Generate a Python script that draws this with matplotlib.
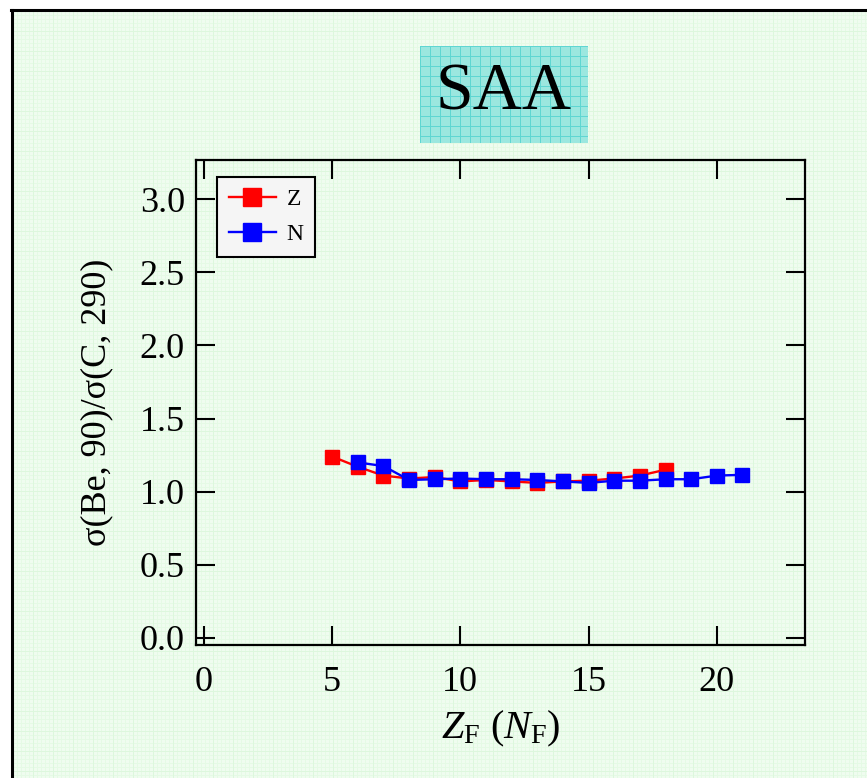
import numpy as np
import matplotlib
matplotlib.use("Agg")
import matplotlib.pyplot as plt
from matplotlib.lines import Line2D

plt.rcParams['font.family'] = ['Liberation Serif', 'DejaVu Serif']
plt.rcParams['mathtext.fontset'] = 'custom'
plt.rcParams['mathtext.rm'] = 'Liberation Serif'
plt.rcParams['mathtext.it'] = 'Liberation Serif:italic'

# ratio sigma(Be, 90) / sigma(C, 290) vs fragment Z and N
z_vals = [5, 6, 7, 8, 9, 10, 11, 12, 13, 14, 15, 16, 17, 18]
z_ratio = [1.24, 1.17, 1.11, 1.09, 1.10, 1.07, 1.08, 1.07, 1.06, 1.07, 1.075, 1.09, 1.11, 1.15]
n_vals = [6, 7, 8, 9, 10, 11, 12, 13, 14, 15, 16, 17, 18, 19, 20, 21]
n_ratio = [1.20, 1.175, 1.08, 1.085, 1.09, 1.085, 1.085, 1.08, 1.07, 1.06, 1.075, 1.075,
           1.085, 1.085, 1.11, 1.115]

x_ticks = [0, 5, 10, 15, 20]
y_ticks = [0.0, 0.5, 1.0, 1.5, 2.0, 2.5, 3.0]

W, H = 867, 778
fig = plt.figure(figsize=(W / 100, H / 100), dpi=100)
fig.patch.set_facecolor('white')


def paper(h, w, base, fine, bold, step_f, step_b):
    img = np.empty((h, w, 3))
    img[:] = base
    img[::step_f, :] = fine
    img[:, ::step_f] = fine
    img[::step_b, :] = bold
    img[:, ::step_b] = bold
    return img / 255.0


# graph-paper background inside the frame
fx0, fy0 = 13, 11
bg = fig.add_axes([fx0 / W, 0, 1 - fx0 / W, 1 - fy0 / H])
bg.imshow(paper(H - fy0, W - fx0, (239, 252, 239), (229, 250, 229), (221, 247, 221), 4, 20),
          aspect='auto', interpolation='nearest')
bg.set_axis_off()
fig.add_artist(Line2D([12 / W, 12 / W], [0, 1 - 10 / H], color='black', lw=2.2))
fig.add_artist(Line2D([11 / W, 1], [1 - 10 / H, 1 - 10 / H], color='black', lw=2.2))

# title tile
tx0, tx1, ty0, ty1 = 420, 588, 46, 143
tb = fig.add_axes([tx0 / W, 1 - ty1 / H, (tx1 - tx0) / W, (ty1 - ty0) / H])
tb.imshow(paper(ty1 - ty0, tx1 - tx0, (155, 231, 223), (130, 224, 218), (95, 214, 210), 10, 10),
          aspect='auto', interpolation='nearest')
tb.set_axis_off()
tb.text(0.5, 0.52, 'SAA', transform=tb.transAxes, ha='center', va='center', fontsize=49)

# main plot
ax = fig.add_axes([196 / W, 1 - 645 / H, (805 - 196) / W, (645 - 160) / H])
ax.set_facecolor('none')
ax.plot(z_vals, z_ratio, color='#ff0000', lw=1.7, marker='s', ms=9.5,
        mec='#ff0000', mfc='#ff0000', label='Z')
ax.plot(n_vals, n_ratio, color='#0000ff', lw=1.7, marker='s', ms=9.5,
        mec='#0000ff', mfc='#0000ff', label='N')

ax.set_xlim(-0.31, 23.44)
ax.set_ylim(-0.048, 3.267)
ax.set_xticks(x_ticks)
ax.set_yticks(y_ticks)
ax.set_yticklabels([f"{v:.1f}" for v in y_ticks])
ax.tick_params(axis='both', direction='in', length=14, width=1.5, labelsize=26,
               top=True, right=True)
ax.tick_params(axis='x', pad=15)
ax.tick_params(axis='y', pad=8)
for s in ax.spines.values():
    s.set_linewidth(1.6)

ax.set_ylabel(r'σ(Be, 90)/σ(C, 290)', fontsize=26, labelpad=19)
ax.set_xlabel(r'$Z_\mathrm{F}$ ($N_\mathrm{F}$)', fontsize=29, labelpad=7)

leg = ax.legend(loc='upper left', bbox_to_anchor=(0.0345, 0.965), borderaxespad=0,
                fontsize=17, handlelength=2.0, markerscale=1.4, fancybox=False,
                framealpha=1, edgecolor='black', facecolor='#f5f5f5',
                borderpad=0.5, labelspacing=0.55, handletextpad=0.45)
leg.get_frame().set_linewidth(1.5)

fig.savefig('out.png', dpi=100)
